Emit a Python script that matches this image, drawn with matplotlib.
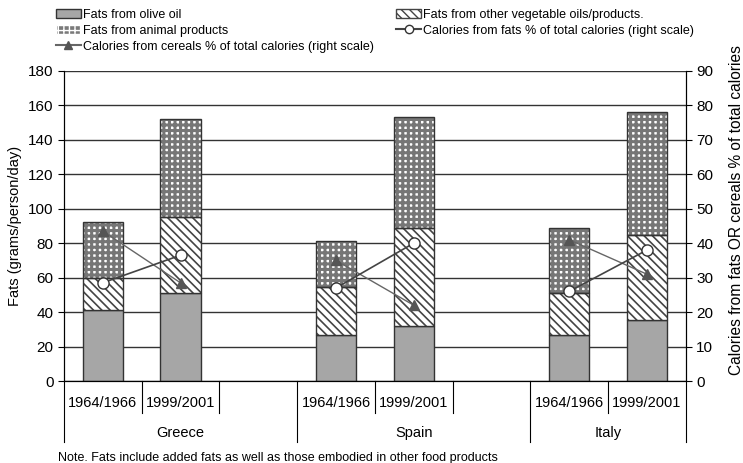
import matplotlib.pyplot as plt
from matplotlib.patches import Patch
from matplotlib.lines import Line2D
import matplotlib.transforms as mtransforms

plt.rcParams['font.family'] = ['Liberation Sans', 'DejaVu Sans']

# data
countries = ['Greece', 'Spain', 'Italy']
periods = ['1964/1966', '1999/2001']
olive = [41, 51, 27, 32, 27, 35.5]
vegetable = [19, 44, 27.5, 57, 24, 49.5]
animal = [32, 57, 26.5, 64, 38, 71]
cal_fats = [28.5, 36.5, 27, 40, 26, 38]
cal_cereals = [43.5, 28.5, 35, 22, 41, 31]

xpos = [0, 1, 3, 4, 6, 7]
w = 0.52

fig = plt.figure(figsize=(7.43, 4.63), dpi=100)
ax = fig.add_axes([0.086, 0.177, 0.837, 0.670])
ax2 = ax.twinx()

ax.set_ylim(0, 180)
ax.set_xlim(-0.5, 7.5)
ax.set_yticks(range(0, 181, 20))
ax.yaxis.grid(True, color='#333333', linewidth=1.0)
ax.set_axisbelow(True)

bot2 = [o + v for o, v in zip(olive, vegetable)]
edge = '#333333'
ax.bar(xpos, olive, w, color='#a6a6a6', edgecolor=edge, linewidth=1.0, zorder=2)
with plt.rc_context({'hatch.linewidth': 1.2}):
    ax.bar(xpos, vegetable, w, bottom=olive, color='white', edgecolor='#444444',
           hatch='\\\\\\\\', linewidth=0, zorder=2)
ax.bar(xpos, vegetable, w, bottom=olive, fill=False, edgecolor=edge, linewidth=1.0, zorder=3)
with plt.rc_context({'hatch.linewidth': 2.2}):
    ax.bar(xpos, animal, w, bottom=bot2, color='white', edgecolor='#767676',
           hatch='+++', linewidth=0, zorder=2)
ax.bar(xpos, animal, w, bottom=bot2, fill=False, edgecolor=edge, linewidth=1.0, zorder=3)

ax2.set_ylim(0, 90)
ax2.set_yticks(range(0, 91, 10))
for i in range(0, 6, 2):
    xs = xpos[i:i + 2]
    ax2.plot(xs, cal_cereals[i:i + 2], color='#666666', lw=1.0, marker='^',
             ms=7, mfc='#555555', mec='#555555', zorder=4)
    ax2.plot(xs, cal_fats[i:i + 2], color='#444444', lw=1.2, marker='o',
             ms=8, mfc='white', mec='#333333', zorder=5)

for a in (ax, ax2):
    a.spines['top'].set_visible(False)
    a.tick_params(axis='y', labelsize=11, direction='out', length=4)
ax.set_xticks([])
ax.set_ylabel('Fats (grams/person/day)', fontsize=10.5, labelpad=4)
ax2.set_ylabel('Calories from fats OR cereals % of total calories', fontsize=11.2)
ax2.yaxis.set_label_coords(1.07, 0.55)

# multi-level x axis
trans = mtransforms.blended_transform_factory(ax.transData, ax.transAxes)
for b in [0.5, 1.5, 3.5, 4.5, 6.5]:
    ax.plot([b, b], [0, -0.103], transform=trans, color='black', lw=0.8, clip_on=False)
for b in [-0.5, 2.5, 5.5, 7.5]:
    ax.plot([b, b], [0, -0.197], transform=trans, color='black', lw=0.8, clip_on=False)
for i, x in enumerate(xpos):
    ax.text(x, -0.071, periods[i % 2], transform=trans, ha='center', va='center', fontsize=10.5)
for c, x in zip(countries, [1, 4, 6.5]):
    ax.text(x, -0.168, c, transform=trans, ha='center', va='center', fontsize=10.5)

fig.text(0.078, 0.011, 'Note. Fats include added fats as well as those embodied in other food products',
         fontsize=9, ha='left', va='center')

handles = [
    Patch(facecolor='#a6a6a6', edgecolor=edge),
    Patch(facecolor='#7a7a7a', edgecolor='white', hatch='+++'),
    Line2D([], [], color='#666666', marker='^', mfc='#555555', mec='#555555', ms=6),
    Patch(facecolor='white', edgecolor='#444444', hatch='\\\\\\\\'),
    Line2D([], [], color='#444444', marker='o', mfc='white', mec='#333333', ms=6),
]
labels = ['Fats from olive oil', 'Fats from animal products',
          'Calories from cereals % of total calories (right scale)',
          'Fats from other vegetable oils/products.',
          'Calories from fats % of total calories (right scale)']
fig.legend(handles, labels, ncol=2, loc='upper left', bbox_to_anchor=(0.06, 1.005),
           frameon=False, fontsize=9, handlelength=2.0, handleheight=0.8,
           handletextpad=0.15, labelspacing=0.3, columnspacing=1.8)

plt.savefig('out.png', dpi=100)
